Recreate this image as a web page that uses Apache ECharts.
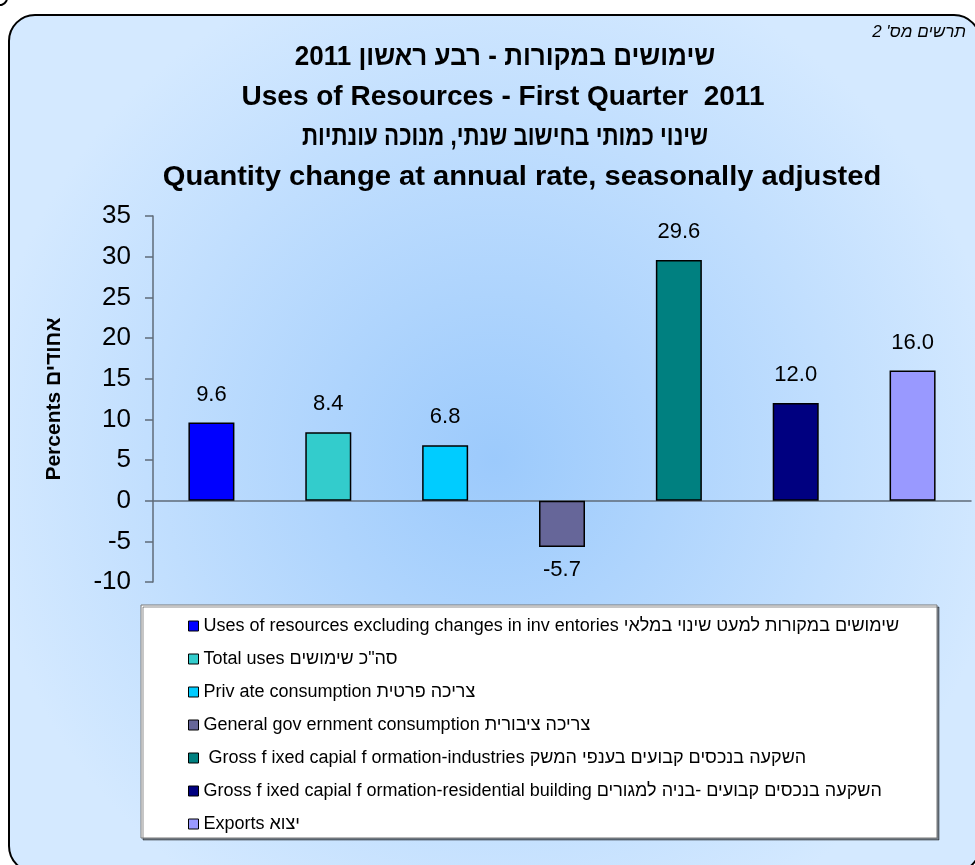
<!DOCTYPE html>
<html><head><meta charset="utf-8">
<script src="https://cdn.jsdelivr.net/npm/echarts@6/dist/echarts.min.js"></script>
<style>html,body{margin:0;padding:0;background:#fff}#c{width:975px;height:865px}</style>
</head><body><div id="c"></div>
<script>
const categories = [
  'Uses of resources excluding changes in inv entories שימושים במקורות למעט שינוי במלאי',
  'Total uses סה"כ שימושים',
  'Priv ate consumption צריכה פרטית',
  'General gov ernment consumption צריכה ציבורית',
  ' Gross f ixed capial f ormation-industries השקעה בנכסים קבועים בענפי המשק',
  'Gross f ixed capial f ormation-residential building השקעה בנכסים קבועים -בניה למגורים',
  'Exports יצוא'
];
const values = [9.6, 8.4, 6.8, -5.7, 29.6, 12.0, 16.0];
const colors = ['#0000FF', '#33CCCC', '#00CCFF', '#666699', '#008080', '#000080', '#9999FF'];
const yMin = -10, yMax = 35, yInterval = 5;
const titleLines = [
  'שימושים במקורות - רבע ראשון 2011',
  'Uses of Resources - First Quarter  2011',
  'שינוי כמותי בחישוב שנתי, מנוכה עונתיות',
  'Quantity change at annual rate, seasonally adjusted'
];
const cornerNote = "תרשים מס' 2";
const yAxisName = 'Percents אחודים';

const FONT = '"Liberation Sans", Arial, sans-serif';
const chart = echarts.init(document.getElementById('c'));

const series = categories.map((name, i) => ({
  type: 'bar',
  name: name,
  stack: 'all',
  barWidth: 46,
  data: values.map((v, j) => (j === i ? v : '-')),
  itemStyle: { color: colors[i], borderColor: '#000', borderWidth: 1.5 },
  label: {
    show: true,
    position: values[i] >= 0 ? 'top' : 'bottom',
    distance: values[i] >= 0 ? 17 : 12,
    fontSize: 22,
    fontFamily: FONT,
    color: '#000',
    formatter: p => Number(p.value).toFixed(1)
  },
  emphasis: { disabled: true }
}));

const graphics = [
  {
    type: 'rect', z: -100,
    shape: { x: 9, y: 15, width: 971, height: 857, r: 26 },
    style: {
      fill: new echarts.graphic.RadialGradient(0.5, 0.52, 0.6, [
        { offset: 0, color: '#9ccafc' },
        { offset: 1, color: '#d4e9ff' }
      ]),
      stroke: '#000', lineWidth: 2
    }
  },
  {
    type: 'arc', z: -90,
    shape: { cx: 0, cy: -2, r: 7, startAngle: -0.3, endAngle: Math.PI / 2 + 0.4 },
    style: { stroke: '#000', lineWidth: 2, fill: null }
  },
  {
    type: 'rect', z: 3,
    shape: { x: 141, y: 605, width: 796, height: 233 },
    style: { fill: '#fff', stroke: '#777', lineWidth: 1,
      shadowColor: 'rgba(0,0,0,0.45)', shadowOffsetX: 2, shadowOffsetY: 2, shadowBlur: 0 }
  },
  {
    type: 'text', z: 5,
    style: { text: cornerNote, x: 966, y: 32, textAlign: 'right', textVerticalAlign: 'middle',
      font: 'italic 17px ' + FONT, fill: '#000' }
  }
];
const titleScale = [0.93, 1, 0.8, 1.04];
const titleX = [505, 503, 505, 522];
titleLines.forEach((t, i) => {
  graphics.push({
    type: 'text', z: 5,
    x: titleX[i], y: 57 + i * 40, scaleX: titleScale[i],
    style: { text: t, x: 0, y: 0, textAlign: 'center', textVerticalAlign: 'middle',
      font: 'bold 28px ' + FONT, fill: '#000' }
  });
});

chart.setOption({
  backgroundColor: '#fff',
  animation: false,
  graphic: graphics,
  grid: { left: 153, right: 4, top: 216, bottom: 283, containLabel: false },
  legend: {
    data: categories,
    orient: 'vertical',
    left: 183, top: 611,
    itemWidth: 10, itemHeight: 10, itemGap: 13,
    icon: 'rect',
    selectedMode: false,
    itemStyle: { borderColor: '#000', borderWidth: 1 },
    textStyle: { fontSize: 18, lineHeight: 20, fontFamily: FONT, color: '#000' },
    z: 6
  },
  xAxis: {
    type: 'category',
    data: categories,
    axisLine: { show: true, onZero: true, lineStyle: { color: '#5f6b78', width: 1.5 } },
    axisTick: { show: false },
    axisLabel: { show: false },
    splitLine: { show: false }
  },
  yAxis: {
    type: 'value',
    min: yMin, max: yMax, interval: yInterval,
    name: yAxisName,
    nameLocation: 'middle',
    nameRotate: 90,
    nameGap: 88,
    nameTextStyle: { fontSize: 21, fontWeight: 'bold', fontFamily: FONT, color: '#000' },
    axisLine: { show: true, lineStyle: { color: '#5f6b78', width: 1.5 } },
    axisTick: { show: true, length: 8, lineStyle: { color: '#5f6b78', width: 1.5 } },
    axisLabel: { fontSize: 26, fontFamily: FONT, color: '#000', margin: 22 },
    splitLine: { show: false }
  },
  series: series
});
</script>
</body></html>
